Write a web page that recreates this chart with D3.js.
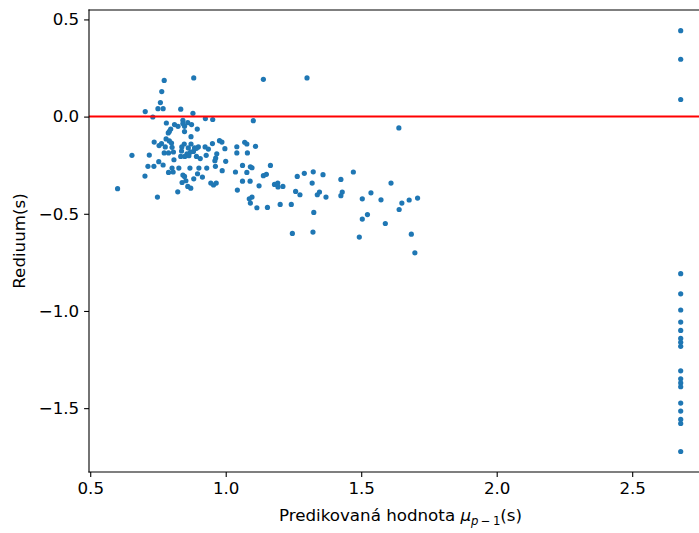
<!DOCTYPE html>
<html>
<head>
<meta charset="utf-8">
<script src="https://cdn.jsdelivr.net/npm/d3@7"></script>
<style>
  html, body { margin: 0; padding: 0; background: #fff; }
  svg { display: block; }
  text { font-family: "DejaVu Sans", sans-serif; }
</style>
</head>
<body>
<div id="chart"></div>
<script>
// Predicted values (x) and residuals (y)
const predicted = [
  0.773,0.882,0.764,0.759,0.703,0.750,0.769,0.834,0.879,0.731,0.925,0.952,1.102,0.842,0.842,0.781,0.811,0.824,0.860,0.874,
  0.848,0.895,0.797,0.792,0.788,0.848,0.872,0.780,0.792,0.736,0.763,0.800,0.754,0.777,0.802,0.847,0.872,0.838,0.862,0.885,
  0.899,0.951,0.977,0.986,0.997,0.924,0.936,1.041,1.070,1.078,1.110,0.654,0.718,0.773,0.789,0.807,0.837,0.857,0.870,0.881,
  0.892,0.834,0.849,0.864,0.892,0.906,0.928,0.963,0.967,1.041,1.080,0.809,1.000,0.960,0.713,0.735,0.753,0.769,0.802,0.827,
  0.868,0.901,0.930,0.962,0.987,1.062,1.091,1.097,0.789,0.806,0.702,0.842,0.848,0.882,0.896,0.914,1.036,1.078,0.839,0.853,
  0.860,0.871,0.945,0.955,0.965,1.062,1.090,0.601,0.823,0.748,1.043,1.097,1.087,1.091,1.115,1.123,
  1.139,1.300,1.639,1.165,1.139,1.150,1.264,1.290,1.323,1.359,1.471,1.425,1.610,1.180,1.192,1.193,1.211,1.258,1.274,1.319,
  1.346,1.338,1.370,1.430,1.425,1.504,1.536,1.573,1.640,1.154,1.201,1.242,1.325,1.246,1.322,1.504,1.523,1.493,1.589,
  1.650,1.677,1.708,1.685,1.698,
  2.679,2.679,2.679,2.679,2.679,2.679,2.679,2.679,2.679,2.679,2.679,2.679,2.679,2.679,2.679,2.679,2.679,2.679,2.679,2.679
];
const residuals = [
  0.186,0.199,0.129,0.072,0.026,0.041,0.041,0.038,0.017,-0.002,-0.010,-0.015,-0.021,-0.019,-0.036,-0.033,-0.041,-0.050,-0.031,-0.041,
  -0.050,-0.064,-0.064,-0.076,-0.084,-0.077,-0.103,-0.115,-0.125,-0.131,-0.139,-0.136,-0.149,-0.156,-0.158,-0.141,-0.141,-0.156,-0.161,-0.161,
  -0.156,-0.139,-0.124,-0.131,-0.165,-0.156,-0.167,-0.155,-0.132,-0.141,-0.153,-0.199,-0.198,-0.187,-0.187,-0.182,-0.177,-0.192,-0.182,-0.179,
  -0.163,-0.205,-0.205,-0.201,-0.205,-0.216,-0.199,-0.213,-0.191,-0.187,-0.187,-0.222,-0.230,-0.227,-0.256,-0.256,-0.232,-0.249,-0.265,-0.265,
  -0.265,-0.265,-0.265,-0.256,-0.278,-0.251,-0.258,-0.263,-0.287,-0.285,-0.306,-0.301,-0.308,-0.320,-0.294,-0.311,-0.285,-0.287,-0.339,-0.330,
  -0.359,-0.368,-0.342,-0.352,-0.342,-0.332,-0.332,-0.371,-0.387,-0.414,-0.378,-0.414,-0.423,-0.445,-0.469,-0.356,
  0.192,0.199,-0.058,-0.251,-0.304,-0.297,-0.308,-0.292,-0.284,-0.299,-0.285,-0.323,-0.342,-0.349,-0.342,-0.362,-0.359,-0.385,-0.402,-0.342,
  -0.388,-0.402,-0.414,-0.388,-0.407,-0.423,-0.392,-0.428,-0.478,-0.467,-0.452,-0.452,-0.493,-0.601,-0.594,-0.527,-0.504,-0.620,-0.550,
  -0.445,-0.429,-0.419,-0.605,-0.701,
  0.442,0.295,0.088,-0.808,-0.912,-0.995,-1.057,-1.100,-1.141,-1.161,-1.182,-1.308,-1.349,-1.370,-1.390,-1.474,-1.515,-1.558,-1.579,-1.723
];
const xTicks = [0.5, 1.0, 1.5, 2.0, 2.5];
const yTicks = [0.5, 0.0, -0.5, -1.0, -1.5];
const xDomain = [0.4955, 2.7945];
const yDomain = [-1.8285, 0.5485];
const refLine = 0;

(function () {
const W = 699, H = 533;
const mL = 89, mR = 712, mT = 10, mB = 472;
const FS = "16.7px", SUB = "11.7px";

const svg = d3.select("#chart").append("svg").attr("width", W).attr("height", H);

const x = d3.scaleLinear().domain(xDomain).range([mL, mR]);
const y = d3.scaleLinear().domain(yDomain).range([mB, mT]);

const data = predicted.map((p, i) => ({ p, r: residuals[i] }));

svg.append("g").selectAll("circle").data(data).join("circle")
  .attr("cx", d => x(d.p)).attr("cy", d => y(d.r)).attr("r", 2.6)
  .attr("fill", "#1f77b4");

svg.append("line")
  .attr("x1", mL).attr("x2", mR)
  .attr("y1", y(refLine)).attr("y2", y(refLine))
  .attr("stroke", "red").attr("stroke-width", 2);

const fmt = v => (v < 0 ? "\u2212" : "") + Math.abs(v).toFixed(1);

const xAxis = d3.axisBottom(x).tickValues(xTicks).tickFormat(fmt).tickSize(4.9).tickPadding(4.9);
const gx = svg.append("g").attr("transform", `translate(0,${mB})`).call(xAxis);
const yAxis = d3.axisLeft(y).tickValues(yTicks).tickFormat(fmt).tickSize(4.9).tickPadding(4.9);
const gy = svg.append("g").attr("transform", `translate(${mL},0)`).call(yAxis);

[gx, gy].forEach(g => {
  g.select(".domain").remove();
  g.selectAll(".tick line").attr("stroke", "#000").attr("stroke-width", 1.1);
  g.selectAll(".tick text").attr("fill", "#000").style("font-size", FS)
    .style("font-family", "'DejaVu Sans', sans-serif");
});

const spine = (x1, y1, x2, y2) => svg.append("line")
  .attr("x1", x1).attr("y1", y1).attr("x2", x2).attr("y2", y2)
  .attr("stroke", "#000").attr("stroke-width", 1.1).attr("stroke-linecap", "square");
spine(mL, mT, mL, mB);
spine(mL, mB, mR, mB);
spine(mL, mT, mR, mT);
spine(mR, mT, mR, mB);

const xl = svg.append("text")
  .attr("x", (mL + mR) / 2).attr("y", 521)
  .attr("text-anchor", "middle").style("font-size", FS).attr("fill", "#000");
xl.append("tspan").text("Predikovaná hodnota ");
xl.append("tspan").style("font-style", "italic").text("μ");
xl.append("tspan").attr("dy", 4).style("font-size", SUB).style("font-style", "italic").text("p");
xl.append("tspan").style("font-size", SUB).text("\u2009\u2212\u20091");
xl.append("tspan").attr("dy", -4).text("(s)");

svg.append("text")
  .attr("transform", `translate(19,${(mT + mB) / 2}) rotate(-90)`)
  .attr("text-anchor", "middle").attr("dy", "0.35em")
  .style("font-size", FS).attr("fill", "#000")
  .text("Rediuum(s)");
})();
</script>
</body>
</html>
